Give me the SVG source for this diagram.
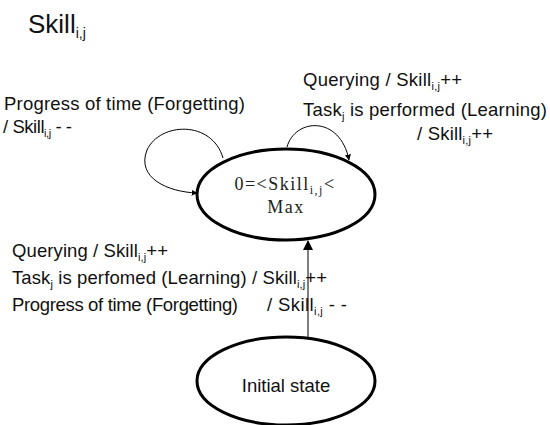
<svg xmlns="http://www.w3.org/2000/svg" width="550" height="425" viewBox="0 0 550 425">
  <style>
    .lbl { font-family: "Liberation Sans", Arial, sans-serif; font-size: 18.5px; fill: #111; }
    .sub { font-size: 11px; }
    .state { fill: #fff; stroke: #000; stroke-width: 3; }
    .st { font-family: "Liberation Serif", "Times New Roman", serif; font-size: 18px; fill: #222; letter-spacing: 1.5px; }
    .loop { fill: none; stroke: #000; stroke-width: 1; }
    .init { fill: none; stroke: #555; stroke-width: 1.5; }
  </style>
  <defs>
    <marker id="arrow" viewBox="0 0 10 10" refX="9" refY="5" markerWidth="6" markerHeight="6" markerUnits="userSpaceOnUse" orient="auto">
      <path d="M0,0 L10,5 L0,10 z" fill="#000"/>
    </marker>
    <marker id="arrowUp" viewBox="0 0 10 10" refX="9" refY="5" markerWidth="10" markerHeight="10" markerUnits="userSpaceOnUse" orient="auto">
      <path d="M0,0 L10,5 L0,10 z" fill="#000"/>
    </marker>
  </defs>

  <!-- title -->
  <text class="lbl" x="28" y="33" style="font-size:26px">Skill<tspan class="sub" style="font-size:14px" dy="5">i,j</tspan></text>

  <!-- connectors -->
  <g id="connectors">
    <path class="loop" d="M223,158 C212,120 160,122 147,150 C136,178 168,192 197,193" marker-end="url(#arrow)"/>
    <path class="loop" d="M287,147 C295,118 340,115 349,160" marker-end="url(#arrow)"/>
    <path class="init" d="M308,337 L308,241" marker-end="url(#arrowUp)"/>
  </g>

  <!-- transition labels -->
  <g id="labels">
    <text class="lbl" x="4" y="110" textLength="241" lengthAdjust="spacing">Progress of time (Forgetting)</text>
    <text class="lbl" x="3" y="133" textLength="69" lengthAdjust="spacing">/ Skill<tspan class="sub" dy="4">i,j</tspan><tspan dy="-4"> - -</tspan></text>

    <text class="lbl" x="303" y="86" textLength="159" lengthAdjust="spacing">Querying / Skill<tspan class="sub" dy="4">i,j</tspan><tspan dy="-4">++</tspan></text>
    <text class="lbl" x="303" y="116" textLength="244" lengthAdjust="spacing">Task<tspan class="sub" dy="4">j</tspan><tspan dy="-4"> is performed (Learning)</tspan></text>
    <text class="lbl" x="417" y="140" textLength="76" lengthAdjust="spacing">/ Skill<tspan class="sub" dy="4">i,j</tspan><tspan dy="-4">++</tspan></text>

    <text class="lbl" x="12" y="257" textLength="156" lengthAdjust="spacing">Querying / Skill<tspan class="sub" dy="4">i,j</tspan><tspan dy="-4">++</tspan></text>
    <text class="lbl" x="12" y="284" textLength="315" lengthAdjust="spacing">Task<tspan class="sub" dy="4">j</tspan><tspan dy="-4"> is perfomed (Learning) / Skill</tspan><tspan class="sub" dy="4">i,j</tspan><tspan dy="-4">++</tspan></text>
    <text class="lbl" x="12" y="311" textLength="226" lengthAdjust="spacing">Progress of time (Forgetting)</text>
    <text class="lbl" x="267" y="311" textLength="80" lengthAdjust="spacing">/ Skill<tspan class="sub" dy="4">i,j</tspan><tspan dy="-4"> - -</tspan></text>
  </g>

  <!-- main state -->
  <g id="skill-state">
    <ellipse class="state" cx="286" cy="194.5" rx="89" ry="45.5"/>
    <text class="st" x="285" y="190" text-anchor="middle">0=&lt;Skill<tspan style="font-size:12px" dy="4">i,j</tspan><tspan dy="-4">&lt;</tspan></text>
    <text class="st" x="286" y="213" text-anchor="middle">Max</text>
  </g>

  <!-- initial state -->
  <g id="initial-state">
    <ellipse class="state" cx="286" cy="381" rx="89" ry="44"/>
    <text class="lbl" x="286" y="392" text-anchor="middle">Initial state</text>
  </g>
</svg>
